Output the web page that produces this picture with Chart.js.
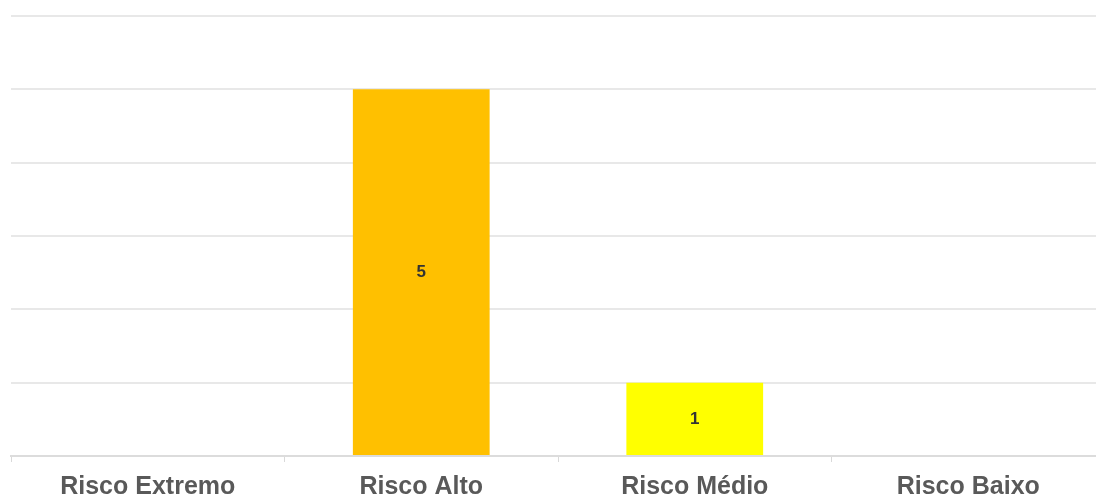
<!DOCTYPE html>
<html>
<head>
<meta charset="utf-8">
<script src="https://cdn.jsdelivr.net/npm/chart.js@4/dist/chart.umd.min.js"></script>
<style>
  html, body { margin: 0; padding: 0; background: #ffffff; }
  #wrap { width: 1096px; height: 498px; overflow: hidden; position: relative; }
  canvas { display: block; }
</style>
</head>
<body>
<div id="wrap"><canvas id="chart" width="1106" height="498"></canvas></div>
<script>
// Risk levels and how many items fall in each
const categories = ['Risco Extremo', 'Risco Alto', 'Risco Médio', 'Risco Baixo'];
const counts = [0, 5, 1, 0];
const barColors = ['#C00000', '#FFC000', '#FFFF00', '#92D050'];
const yTicks = [0, 1, 2, 3, 4, 5, 6];

// Writes each non-zero count in the middle of its bar
const centerLabels = {
  id: 'centerLabels',
  afterDatasetsDraw(chart) {
    const ctx = chart.ctx;
    const meta = chart.getDatasetMeta(0);
    ctx.save();
    ctx.font = 'bold 17px "Liberation Sans", Arial, sans-serif';
    ctx.fillStyle = '#333333';
    ctx.textAlign = 'center';
    ctx.textBaseline = 'middle';
    meta.data.forEach((bar, i) => {
      const v = counts[i];
      if (!v) return;
      const mid = (bar.y + bar.base) / 2;
      ctx.fillText(String(v), bar.x, mid);
    });
    ctx.restore();
  }
};

new Chart(document.getElementById('chart'), {
  type: 'bar',
  data: {
    labels: categories,
    datasets: [{
      data: counts,
      backgroundColor: barColors,
      borderWidth: 0,
      barPercentage: 0.5,
      categoryPercentage: 1.0
    }]
  },
  options: {
    responsive: false,
    animation: false,
    layout: { padding: { left: 11, top: 16, right: 1, bottom: 0 } },
    plugins: { legend: { display: false }, tooltip: { enabled: false } },
    scales: {
      x: {
        afterFit(axis) { axis.height = 42; },
        grid: {
          offset: true,
          drawOnChartArea: false,
          drawTicks: true,
          tickLength: 6,
          color: '#d9d9d9',
          lineWidth: 1
        },
        border: { display: true, color: '#dcdcdc', width: 2 },
        ticks: {
          color: '#595959',
          font: { family: '"Liberation Sans", Arial, sans-serif', size: 25, weight: 'bold', lineHeight: 1 },
          padding: 13,
          maxRotation: 0
        }
      },
      y: {
        min: yTicks[0],
        max: yTicks[yTicks.length - 1],
        afterBuildTicks(axis) { axis.ticks = yTicks.map(v => ({ value: v })); },
        grid: { color: '#e8e8e8', lineWidth: 2, drawTicks: false },
        border: { display: false },
        ticks: { display: false }
      }
    }
  },
  plugins: [centerLabels]
});
</script>
</body>
</html>
